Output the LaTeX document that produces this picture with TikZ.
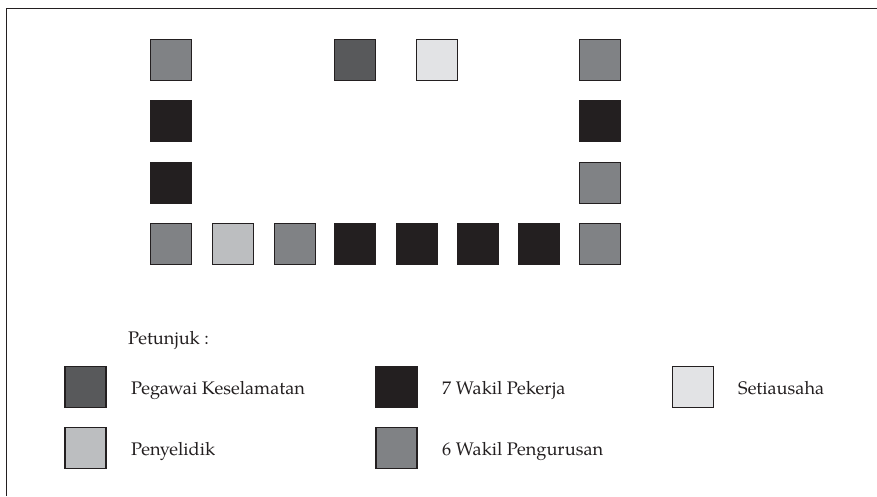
\documentclass[tikz,border=0pt]{standalone}
\usepackage{fontspec}
\setmainfont{texgyrepagella-regular.otf}
\definecolor{cgray}{HTML}{808285}
\definecolor{cblack}{HTML}{231F20}
\definecolor{cdark}{HTML}{58595B}
\definecolor{clight}{HTML}{E2E3E5}
\definecolor{cpeny}{HTML}{BCBEC0}
\tikzset{
  sq/.style={draw=cblack, line width=1.4pt, minimum size=41pt, inner sep=0pt, outer sep=0pt},
  gsq/.style={sq, fill=cgray},
  bsq/.style={sq, fill=cblack},
  dsq/.style={sq, fill=cdark},
  lsq/.style={sq, fill=clight},
  psq/.style={sq, fill=cpeny},
  lbl/.style={anchor=base west, inner sep=0pt, font=\fontsize{18.2}{21}\selectfont, text=cblack},
  frame/.style={draw=cblack, line width=1.3pt}
}
\begin{document}
\begin{tikzpicture}[x=1pt,y=-1pt]
\useasboundingbox (0,0) rectangle (877,496);
\coordinate (fb) at (6.5,496);
\coordinate (fc) at (6.5,8.5);
\coordinate (fr) at (877,8.5);
\draw[frame] (fb) -- (fc) -- (fr);
% top row
\node[gsq] (a1) at (171,60) {};
\node[dsq] (a2) at (355,60) {};
\node[lsq] (a3) at (437,60) {};
\node[gsq] (a4) at (600,60) {};
% second row
\node[bsq] (b1) at (171,121) {};
\node[bsq] (b2) at (600,121) {};
% third row
\node[bsq] (c1) at (171,183) {};
\node[gsq] (c2) at (600,183) {};
% bottom row
\node[gsq] (d1) at (171,244) {};
\node[psq] (d2) at (233,244) {};
\node[gsq] (d3) at (295,244) {};
\node[bsq] (d4) at (355,244) {};
\node[bsq] (d5) at (417,244) {};
\node[bsq] (d6) at (478,244) {};
\node[bsq] (d7) at (539,244) {};
\node[gsq] (d8) at (600,244) {};
% legend
\node[lbl] (pt) at (128,344) {Petunjuk :};
\node[dsq] (l1) at (85.5,387) {};
\node[lbl] (t1) at (131,394.5) {Pegawai Keselamatan};
\node[psq] (l2) at (85.5,448) {};
\node[lbl] (t2) at (131,455.5) {Penyelidik};
\node[bsq] (l3) at (396.5,387) {};
\node[lbl] (t3) at (442,394.5) {7 Wakil Pekerja};
\node[gsq] (l4) at (396.5,448) {};
\node[lbl] (t4) at (442,455.5) {6 Wakil Pengurusan};
\node[lsq] (l5) at (693,387) {};
\node[lbl] (t5) at (738,394.5) {Setiausaha};
\end{tikzpicture}
\end{document}
